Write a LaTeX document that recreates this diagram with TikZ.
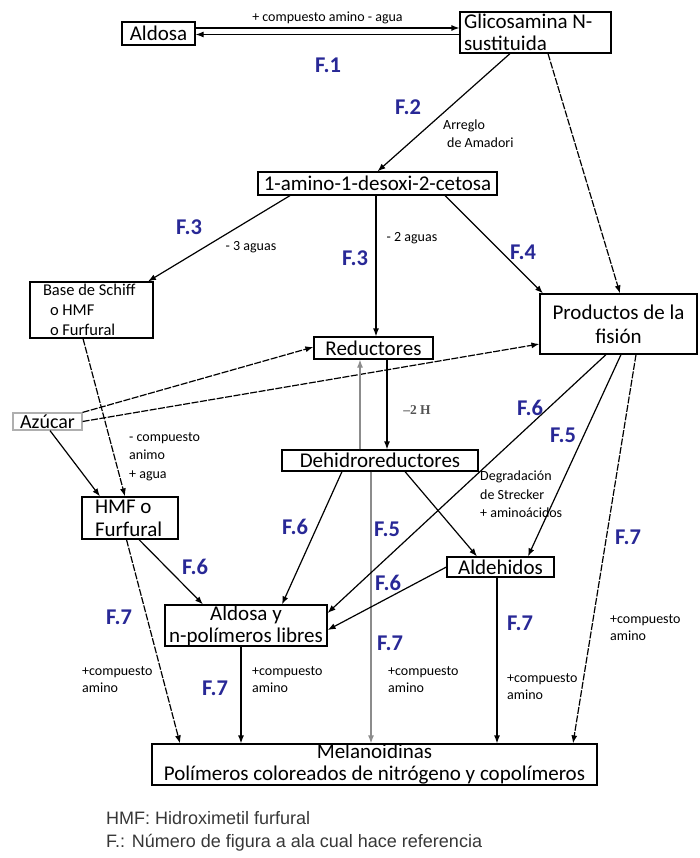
\documentclass[tikz,border=0pt]{standalone}
\usepackage{fontspec}
\setmainfont{Carlito}
\newfontfamily\legendfont{Liberation Sans}
\newfontfamily\hfont{Liberation Serif}
\usetikzlibrary{arrows.meta}
\definecolor{figblue}{RGB}{40,40,150}
\definecolor{linegray}{RGB}{140,140,140}
\definecolor{legendgray}{RGB}{55,55,55}

\begin{document}
\begin{tikzpicture}[x=1pt,y=-1pt,
		box/.style={shape=rectangle,draw=black,line width=1.2pt,inner sep=0pt,
			font=\fontsize{21}{22}\selectfont},
		lbl/.style={inner sep=0pt,align=left,font=\fontsize{14}{17.5}\selectfont},
		fig/.style={inner sep=0pt,text=figblue,font=\fontsize{22.5}{24}\selectfont\bfseries},
		arr/.style={line width=1.2pt,-{Latex[length=8pt,width=6pt]}},
		dsh/.style={arr,dash pattern=on 7pt off 1.5pt}]
		\useasboundingbox (0,0) rectangle (699,858);

		\draw node(aldosa)[box,minimum width=73pt,minimum height=23pt,
						at={(158.5,33.5)}]{Aldosa};
		\draw node(glicosamina)[box,align=flush left,text width=143pt,inner xsep=4pt,
						minimum height=41pt,at={(535.5,32.5)}]
			{Glicosamina N-\\sustituida};
		\draw node(cetosa)[box,minimum width=239pt,minimum height=23pt,
						at={(377.5,183.5)}]{1-amino-1-desoxi-2-cetosa};
		\draw node(schiff)[box,align=flush left,text width=97pt,inner xsep=13pt,
						minimum height=56pt,at={(91.5,310)},
						font=\fontsize{16.5}{20}\selectfont]
			{Base de Schiff\\\hspace*{7pt}o HMF\\\hspace*{7pt}o Furfural};
		\draw node(productos)[box,align=center,minimum width=157pt,minimum height=60pt,
						at={(618.5,324)},font=\fontsize{21}{24}\selectfont]
			{Productos de la\\fisión};
		\draw node(reductores)[box,minimum width=119pt,minimum height=22pt,
						at={(373.5,348)}]{Reductores};
		\draw node(azucar)[box,draw=linegray!70,minimum width=69pt,minimum height=17pt,
						at={(47.5,421.5)},font=\fontsize{20}{22}\selectfont]{Azúcar};
		\draw node(dehidro)[box,minimum width=196pt,minimum height=21pt,
						at={(380,460.5)}]{Dehidroreductores};
		\draw node(hmf)[box,align=flush left,text width=70pt,inner xsep=13pt,
						minimum height=42pt,at={(130,518)},
						font=\fontsize{21}{23}\selectfont]
			{HMF o\\Furfural};
		\draw node(aldehidos)[box,minimum width=107pt,minimum height=20pt,
						at={(500.5,567)}]{Aldehidos};
		\draw node(libres)[box,align=center,minimum width=162pt,minimum height=41pt,
						at={(246,625.5)}]
			{Aldosa y\\n-polímeros libres};
		\draw node(melanoidinas)[box,align=center,minimum width=445pt,minimum height=41pt,
						at={(374.5,764.5)}]
			{Melanoidinas\\Polímeros coloreados de nitrógeno y copolímeros};

		\draw[arr] ([yshift=5.5pt]aldosa.east) -- ([yshift=5.5pt]aldosa.east -| glicosamina.west)
			node(agua)[lbl,midway,above=3pt]{+ compuesto amino - agua};
		\draw[arr] ([yshift=-2pt]glicosamina.west) -- ([yshift=-2pt]glicosamina.west -| aldosa.east);
		\draw[arr] ([xshift=-25.5pt]glicosamina.south) -- (cetosa.north);
		\draw[dsh] ([xshift=12.5pt]glicosamina.south) -- ([xshift=1.5pt]productos.north);
		\draw[arr] ([xshift=-87.5pt]cetosa.south) -- ([xshift=56.5pt]schiff.north);
		\draw[arr] ([xshift=2.5pt]reductores.north |- cetosa.south) -- ([xshift=2.5pt]reductores.north);
		\draw[arr] ([xshift=67.5pt]cetosa.south) -- ([xshift=-75.5pt]productos.north);
		\draw[dsh] (azucar.north east) -- ([yshift=1pt]reductores.west);
		\draw[dsh] (azucar.east) -- ([yshift=-20pt]productos.west);
		\draw[arr] ([xshift=2.5pt]azucar.south) -- ([xshift=-30pt]hmf.north);
		\draw[dsh] ([xshift=-8.5pt]schiff.south) -- ([xshift=-5pt]hmf.north);
		\draw[arr] ([xshift=13.5pt]reductores.south) -- ([xshift=13.5pt]reductores.south |- dehidro.north);
		\draw[arr,draw=linegray] ([xshift=-20pt]dehidro.north) -- ([xshift=-20pt]dehidro.north |- reductores.south);
		\draw[arr,draw=linegray] ([xshift=-9pt]dehidro.south) -- ([xshift=-9pt]dehidro.south |- melanoidinas.north);
		\draw[arr] ([xshift=-38pt]dehidro.south) -- ([xshift=36pt]libres.north);
		\draw[arr] ([xshift=25pt]dehidro.south) -- ([xshift=-23.5pt]aldehidos.north);
		\draw[arr] ([xshift=-12.5pt]productos.south) -- ([yshift=12.5pt]libres.east);
		\draw[arr] ([xshift=2.5pt]productos.south) -- ([xshift=27.5pt]aldehidos.north);
		\draw[dsh] ([xshift=17.5pt]productos.south) -- ([xshift=198.5pt]melanoidinas.north);
		\draw[arr] (aldehidos.west) -- ([yshift=-4.5pt]libres.east);
		\draw[arr] ([xshift=-3.5pt]aldehidos.south) -- ([xshift=-3.5pt]aldehidos.south |- melanoidinas.north);
		\draw[arr] ([xshift=9pt]hmf.south) -- ([xshift=-43pt]libres.north);
		\draw[dsh] ([xshift=-3.5pt]hmf.south) -- ([xshift=-194.5pt]melanoidinas.north);
		\draw[arr] ([xshift=-5pt]libres.south) -- ([xshift=-5pt]libres.south |- melanoidinas.north);

		\draw node(amadori)[lbl,anchor=north west,at={(443,120)}]{Arreglo\\\hspace*{4pt}de Amadori};
		\draw node(tresaguas)[lbl,at={(251,247)}]{- 3 aguas};
		\draw node(dosaguas)[lbl,at={(412,238)}]{- 2 aguas};
		\draw node(doshidro)[inner sep=0pt,text=linegray!60!black,
						font=\hfont\fontsize{13.5}{15}\selectfont\bfseries,at={(417,410)}]{–2 H};
		\draw node(animo)[lbl,anchor=north west,at={(129,432)},
						font=\fontsize{14}{18.5}\selectfont]{- compuesto\\animo\\+ agua};
		\draw node(strecker)[lbl,anchor=north west,at={(480,471)},
						font=\fontsize{14}{18.5}\selectfont]{Degradación\\de Strecker\\+ aminoácidos};
		\draw node(aminoa)[lbl,anchor=north west,at={(82,666)}]{+compuesto\\amino};
		\draw node(aminob)[lbl,anchor=north west,at={(252,666)}]{+compuesto\\amino};
		\draw node(aminoc)[lbl,anchor=north west,at={(388,666)}]{+compuesto\\amino};
		\draw node(aminod)[lbl,anchor=north west,at={(507,673)}]{+compuesto\\amino};
		\draw node(aminoe)[lbl,anchor=north west,at={(610,614)}]{+compuesto\\amino};

		\draw node(fone)[fig,at={(328,65)}]{F.1};
		\draw node(ftwo)[fig,at={(408,107)}]{F.2};
		\draw node(fthreea)[fig,at={(189,227)}]{F.3};
		\draw node(fthreeb)[fig,at={(355,258)}]{F.3};
		\draw node(ffour)[fig,at={(523,252)}]{F.4};
		\draw node(fsixa)[fig,at={(530,408)}]{F.6};
		\draw node(ffivea)[fig,at={(563,435)}]{F.5};
		\draw node(fsixb)[fig,at={(295,527)}]{F.6};
		\draw node(ffiveb)[fig,at={(387,529)}]{F.5};
		\draw node(fsixc)[fig,at={(195,567)}]{F.6};
		\draw node(fsixd)[fig,at={(388,583)}]{F.6};
		\draw node(fsevena)[fig,at={(119,617)}]{F.7};
		\draw node(fsevenb)[fig,at={(215,688)}]{F.7};
		\draw node(fsevenc)[fig,at={(390,643)}]{F.7};
		\draw node(fsevend)[fig,at={(520,623)}]{F.7};
		\draw node(fsevene)[fig,at={(628,537)}]{F.7};

		\draw node(legendhmf)[inner sep=0pt,anchor=west,text=legendgray,
						font=\legendfont\fontsize{18}{20}\selectfont,at={(106,818)}]
			{HMF: Hidroximetil furfural};
		\draw node(legendf)[inner sep=0pt,anchor=west,text=legendgray,
						font=\legendfont\fontsize{18}{20}\selectfont,at={(106,843)}]
			{F.: Número de figura a ala cual hace referencia};
		\end{tikzpicture}
\end{document}
